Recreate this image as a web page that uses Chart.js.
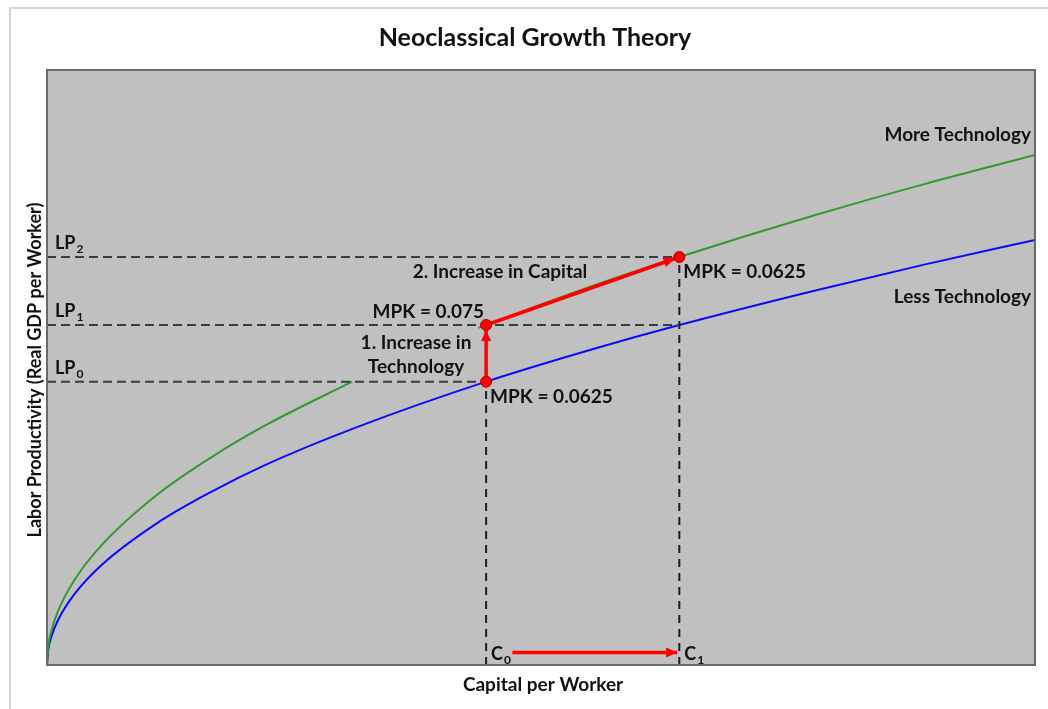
<!DOCTYPE html>
<html>
<head>
<meta charset="UTF-8">
<title>Neoclassical Growth Theory</title>
<script src="https://cdn.jsdelivr.net/npm/chart.js"></script>
<style>
  html, body { margin: 0; padding: 0; background: #fff; }
  #wrap { width: 1048px; height: 709px; position: relative; }
</style>
</head>
<body>
<div id="wrap"><canvas id="growthChart"></canvas></div>
<script>
// capital per worker (x) and labor productivity (y)
const capital     = [0, 1, 4, 10, 25, 50, 100, 150, 200, 280, 400, 500, 576, 700, 800, 900];
const lessTech    = [0, 2.5, 5, 7.9, 12.5, 17.7, 25, 30.6, 35.4, 41.8, 50, 55.9, 60, 66.1, 70.7, 75];
const moreCapital = [0, 1, 4, 10, 25, 50, 100, 150, 200, 278, 330, 393, 500, 576, 700, 800, 900];
const moreTech    = [0, 3, 6, 9.5, 15, 21.2, 30, 36.7, 42.4, 50, null, 59.5, 67.1, 72, 79.4, 84.9, 90];

const capitalMarks = [400, 576];          // C0, C1
const capitalTops  = [50, 72];
const lpLevels     = [50, 60, 72];        // LP0, LP1, LP2
const lpEnds       = [400, 576, 576];
const pointsX      = [400, 400, 576];
const pointsY      = [50, 60, 72];
const mpkLabels    = ['MPK = 0.0625', 'MPK = 0.075', 'MPK = 0.0625'];
const techArrowX   = [400, 400];
const techArrowY   = [50, 60];
const capArrowX    = [400, 576];
const capArrowY    = [60, 72];
const shiftArrowX  = [424, 574];
const shiftArrowY  = [2.2, 2.2];

const xy = (xs, ys) => xs.map((x, i) => ({ x: x, y: ys[i] }));
const FONT = 'Lato, "Open Sans", sans-serif';

const dashedSets = [];
lpLevels.forEach((lp, i) => {
    dashedSets.push({
        data: xy([0, lpEnds[i]], [lp, lp]),
        borderColor: '#3c3c3c', borderWidth: 2, borderDash: [9, 5],
        pointRadius: 0, fill: false
    });
});
capitalMarks.forEach((c, i) => {
    dashedSets.push({
        data: xy([c, c], [0, capitalTops[i]]),
        borderColor: '#1e1e1e', borderWidth: 2, borderDash: [8, 6],
        pointRadius: 0, fill: false
    });
});

function arrowHead(ctx, x1, y1, x2, y2, back) {
    const a = Math.atan2(y2 - y1, x2 - x1);
    const tx = x2 - Math.cos(a) * back, ty = y2 - Math.sin(a) * back;
    const len = 11, half = 5;
    ctx.save();
    ctx.fillStyle = '#ff0000';
    ctx.beginPath();
    ctx.moveTo(tx, ty);
    ctx.lineTo(tx - Math.cos(a) * len - Math.sin(a) * half, ty - Math.sin(a) * len + Math.cos(a) * half);
    ctx.lineTo(tx - Math.cos(a) * len + Math.sin(a) * half, ty - Math.sin(a) * len - Math.cos(a) * half);
    ctx.closePath();
    ctx.fill();
    ctx.restore();
}

function subText(ctx, main, sub, x, y, size) {
    ctx.font = 'bold ' + size + 'px ' + FONT;
    ctx.fillText(main, x, y);
    const w = ctx.measureText(main).width;
    ctx.font = 'bold ' + Math.round(size * 0.65) + 'px ' + FONT;
    ctx.fillText(sub, x + w + 1, y + 4);
}

const decor = {
    id: 'decor',
    beforeDraw(chart) {
        const { ctx, chartArea: a } = chart;
        ctx.save();
        ctx.fillStyle = '#ffffff';
        ctx.fillRect(0, 0, chart.width, chart.height);
        ctx.strokeStyle = '#d4d4d4';
        ctx.lineWidth = 2;
        ctx.strokeRect(10, 8, chart.width + 20, chart.height - 4);
        ctx.fillStyle = '#c0c0c0';
        ctx.fillRect(a.left, a.top, a.right - a.left, a.bottom - a.top);
        ctx.restore();
    },
    afterDatasetsDraw(chart) {
        const { ctx } = chart;
        const xs = chart.scales.x, ys = chart.scales.y;
        const px = v => xs.getPixelForValue(v), py = v => ys.getPixelForValue(v);
        arrowHead(ctx, px(techArrowX[0]), py(techArrowY[0]), px(techArrowX[1]), py(techArrowY[1]), 5);
        arrowHead(ctx, px(capArrowX[0]), py(capArrowY[0]), px(capArrowX[1]), py(capArrowY[1]), 5);
        arrowHead(ctx, px(shiftArrowX[0]), py(shiftArrowY[0]), px(shiftArrowX[1]), py(shiftArrowY[1]), 0);
    },
    afterDraw(chart) {
        const { ctx, chartArea: a } = chart;
        const xs = chart.scales.x, ys = chart.scales.y;
        const px = v => xs.getPixelForValue(v), py = v => ys.getPixelForValue(v);
        ctx.save();
        ctx.strokeStyle = '#6a6a6a';
        ctx.lineWidth = 2;
        ctx.strokeRect(a.left, a.top, a.right - a.left, a.bottom - a.top);

        ctx.fillStyle = '#111';
        ctx.textBaseline = 'alphabetic';

        // title and axis titles
        ctx.textAlign = 'center';
        ctx.font = 'bold 25px ' + FONT;
        ctx.fillText('Neoclassical Growth Theory', 535, 46);
        ctx.font = 'bold 19px ' + FONT;
        ctx.fillText('Capital per Worker', 543, 691);
        ctx.save();
        ctx.translate(41, 370);
        ctx.rotate(-Math.PI / 2);
        ctx.font = 'bold 18px ' + FONT;
        ctx.fillText('Labor Productivity (Real GDP per Worker)', 0, 0);
        ctx.restore();

        // curve names
        ctx.textAlign = 'right';
        ctx.font = 'bold 19px ' + FONT;
        ctx.fillText('More Technology', a.right - 4, 141);
        ctx.fillText('Less Technology', a.right - 4, 303);

        // LP labels
        ctx.textAlign = 'left';
        lpLevels.forEach((lp, i) => subText(ctx, 'LP', String(i), a.left + 8, py(lp) - 8, 18));

        // C labels
        capitalMarks.forEach((c, i) => subText(ctx, 'C', String(i), px(c) + 5, a.bottom - 5, 18));

        // MPK labels
        ctx.font = 'bold 19px ' + FONT;
        ctx.fillText(mpkLabels[0], px(pointsX[0]) + 4, py(pointsY[0]) + 21);
        ctx.fillText(mpkLabels[2], px(pointsX[2]) + 4, py(pointsY[2]) + 21);
        ctx.textAlign = 'right';
        ctx.fillText(mpkLabels[1], px(pointsX[1]) - 2, py(pointsY[1]) - 7);

        // steps
        ctx.textAlign = 'center';
        ctx.fillText('2. Increase in Capital', 500, 278);
        ctx.fillText('1. Increase in', 416, 349);
        ctx.fillText('Technology', 416, 373);
        ctx.restore();
    }
};

const ctx = document.getElementById('growthChart').getContext('2d');
const growthChart = new Chart(ctx, {
    type: 'line',
    data: {
        datasets: [
            {
                data: xy(pointsX, pointsY), showLine: false,
                pointRadius: 5.5, pointBackgroundColor: '#ff0000',
                pointBorderColor: '#a00000', pointBorderWidth: 1
            },
            { data: xy(techArrowX, techArrowY), borderColor: '#ff0000', borderWidth: 3.5, pointRadius: 0 },
            { data: xy(capArrowX, capArrowY), borderColor: '#ff0000', borderWidth: 3.5, pointRadius: 0 },
            { data: xy(shiftArrowX, shiftArrowY), borderColor: '#ff0000', borderWidth: 3.5, pointRadius: 0 },
            ...dashedSets,
            {
                label: 'More Technology', data: xy(moreCapital, moreTech),
                borderColor: '#2f9a2f', borderWidth: 2, pointRadius: 0,
                cubicInterpolationMode: 'monotone', spanGaps: false
            },
            {
                label: 'Less Technology', data: xy(capital, lessTech),
                borderColor: '#0a0aff', borderWidth: 2, pointRadius: 0,
                cubicInterpolationMode: 'monotone'
            }
        ]
    },
    options: {
        responsive: true,
        maintainAspectRatio: false,
        animation: false,
        layout: { padding: { left: 47, top: 70, right: 13, bottom: 44 } },
        scales: {
            x: { type: 'linear', min: 0, max: 900, display: false },
            y: { type: 'linear', min: 0, max: 105, display: false }
        },
        plugins: {
            legend: { display: false },
            tooltip: { enabled: false }
        }
    },
    plugins: [decor]
});
</script>
</body>
</html>
